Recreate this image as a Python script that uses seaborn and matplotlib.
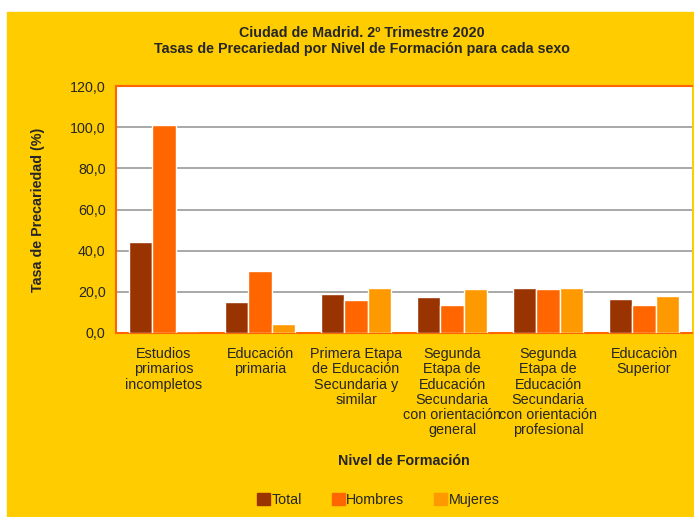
import matplotlib.pyplot as plt
import matplotlib.patches as mpatches
import pandas as pd
import seaborn as sns

categories = [
    "Estudios\nprimarios\nincompletos",
    "Educación\nprimaria",
    "Primera Etapa\nde Educación\nSecundaria y\nsimilar",
    "Segunda\nEtapa de\nEducación\nSecundaria\ncon orientación\ngeneral",
    "Segunda\nEtapa de\nEducación\nSecundaria\ncon orientación\nprofesional",
    "Educaciòn\nSuperior",
]
series = ["Total", "Hombres", "Mujeres"]
total = [44.3, 15.3, 18.9, 17.7, 22.1, 16.4]
hombres = [100.9, 30.3, 16.1, 13.5, 21.3, 13.7]
mujeres = [0.0, 4.5, 21.8, 21.3, 21.8, 18.2]
colors = ["#993300", "#FF6600", "#FF9900"]
yticks = [0, 20, 40, 60, 80, 100, 120]

rows = []
for name, vals in zip(series, [total, hombres, mujeres]):
    for cat, v in zip(categories, vals):
        rows.append({"Nivel": cat, "Serie": name, "Valor": v})
df = pd.DataFrame(rows)

sns.set_style("white")
plt.rcParams["font.family"] = ["Liberation Sans", "DejaVu Sans"]

fig = plt.figure(figsize=(6.94, 5.17), dpi=100)
fig.patch.set_facecolor("white")
# yellow chart background, leaving the thin white margin at top and left
fig.patches.append(mpatches.Rectangle((7 / 694, 0), 1, (517 - 12) / 517,
                                      transform=fig.transFigure, color="#FFCC00", zorder=-10))

ax = fig.add_axes([116 / 694, (517 - 333) / 517, 576 / 694, 247 / 517])
ax.set_facecolor("white")
sns.barplot(data=df, x="Nivel", y="Valor", hue="Serie", palette=colors,
            width=0.73, saturation=1, ax=ax, zorder=3)

ax.set_ylim(0, 120)
ax.set_xlim(-0.5, 5.5)
ax.set_yticks(yticks)
ax.set_yticklabels([f"{v:.1f}".replace(".", ",") for v in yticks], fontsize=10.3)
ax.yaxis.grid(True, color="#999999", linewidth=1.2, zorder=0)
ax.set_axisbelow(True)
ax.set_xticks(range(len(categories)))
ax.set_xticklabels(categories, fontsize=10.4, linespacing=1.12, va="top")
ax.tick_params(axis="x", length=0, pad=10)
ax.tick_params(axis="y", length=4, color="#FF6600", direction="out", width=1)
# group separator ticks on the x axis
ax.set_xticks([i + 0.5 for i in range(-1, 6)], minor=True)
ax.tick_params(axis="x", which="minor", length=4, color="#FF6600", width=1)

for side in ["left", "bottom", "top"]:
    ax.spines[side].set_color("#FF6600")
    ax.spines[side].set_linewidth(1.5)
ax.spines["right"].set_visible(False)

ax.set_xlabel("Nivel de Formación", fontsize=10.3, fontweight="bold")
ax.set_ylabel("Tasa de Precariedad (%)", fontsize=10.3, fontweight="bold", labelpad=18)
ax.xaxis.set_label_coords(0.5, -0.49)

fig.text(0.522, 1 - 33 / 517, "Ciudad de Madrid. 2º Trimestre 2020", ha="center", va="center",
         fontsize=10.3, fontweight="bold")
fig.text(0.522, 1 - 49 / 517, "Tasas de Precariedad por Nivel de Formación para cada sexo",
         ha="center", va="center", fontsize=10.3, fontweight="bold")

ax.legend_.remove()
handles = [mpatches.Patch(color=c, label=s) for c, s in zip(colors, series)]
fig.legend(handles=handles, loc="center", bbox_to_anchor=(0.545, 1 - 500 / 517), ncol=3,
           frameon=False, fontsize=10.3, handlelength=0.9, handleheight=0.9,
           handletextpad=0.1, columnspacing=2.1)

plt.savefig("out.png", dpi=100)
plt.close()
